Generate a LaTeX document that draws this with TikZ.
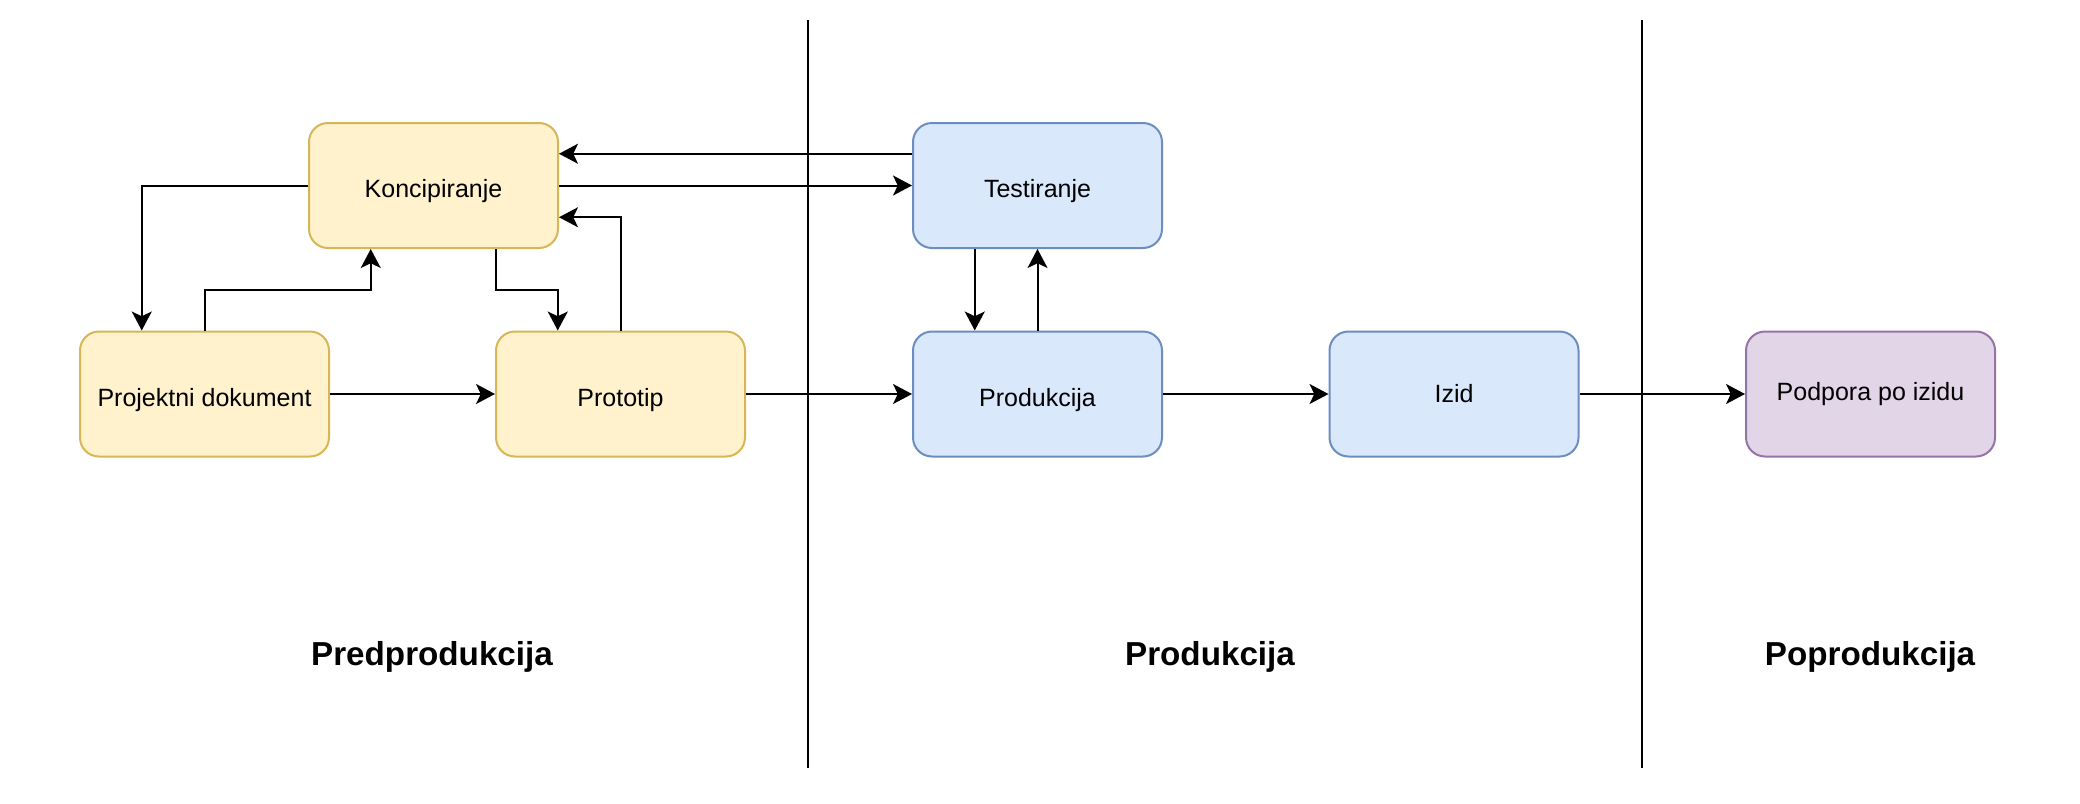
\documentclass[tikz,border=0pt]{standalone}
\usepackage{fontspec}
\setmainfont{Liberation Sans}
\usetikzlibrary{arrows.meta,calc}
\definecolor{yfill}{HTML}{FFF2CC}\definecolor{ydraw}{HTML}{D6B656}
\definecolor{bfill}{HTML}{DAE8FC}\definecolor{bdraw}{HTML}{6C8EBF}
\definecolor{pfill}{HTML}{E1D5E7}\definecolor{pdraw}{HTML}{9673A6}
\tikzset{
  box/.style={rounded corners=9.5pt, line width=1pt, minimum width=124.5pt, minimum height=62.5pt, inner sep=0pt, font=\fontsize{12.5}{15}\selectfont, align=center},
  low/.style={text height=12pt, text depth=0pt},
  ybox/.style={box, fill=yfill, draw=ydraw},
  bbox/.style={box, fill=bfill, draw=bdraw},
  pbox/.style={box, fill=pfill, draw=pdraw},
  arr/.style={line width=1pt, -{Stealth[length=9.5pt, width=10pt, inset=2.4pt]}},
  phase/.style={font=\fontsize{16.6}{20}\selectfont\bfseries},
  divider/.style={line width=1pt}
}
\begin{document}
\begin{tikzpicture}[x=0.5pt, y=-0.5pt]
\useasboundingbox (0,0) rectangle (2080,803);
\fill[white] (0,0) rectangle (2080,803);
\draw[divider] (808,20) -- (808,768);
\draw[divider] (1642,20) -- (1642,768);
\node[ybox, low] (K) at (433.5,185.5) {Koncipiranje};
\node[ybox, low] (PD) at (204.5,394) {Projektni dokument};
\node[ybox, low] (P) at (620.5,394) {Prototip};
\node[bbox, low] (T) at (1037.5,185.5) {Testiranje};
\node[bbox, low] (PR) at (1037.5,394) {Produkcija};
\node[bbox] (I) at (1454,394) {Izid};
\node[pbox] (PO) at (1870.5,394) {Podpora po izidu};
\node[phase] (L1) at (432,657) {Predprodukcija};
\node[phase] (L2) at (1210,657) {Produkcija};
\node[phase] (L3) at (1870,657) {Poprodukcija};
% connectors
\draw[arr] ($(T.north west)!0.25!(T.south west)$) -- ($(K.north east)!0.25!(K.south east)$);
\draw[arr] (K.east) -- (T.west);
\draw[arr] (K.west) -| ($(PD.north west)!0.25!(PD.north east)$);
\draw[arr] (PD.north) |- ($(PD.north)!0.5!(K.south)$) -| ($(K.south west)!0.25!(K.south east)$);
\draw[arr] ($(K.south west)!0.75!(K.south east)$) |- ($(P.north)!0.5!(K.south)$) -| ($(P.north west)!0.25!(P.north east)$);
\draw[arr] (P.north) |- ($(K.north east)!0.75!(K.south east)$);
\draw[arr] (PD.east) -- (P.west);
\draw[arr] (P.east) -- (PR.west);
\draw[arr] ($(T.south west)!0.25!(T.south east)$) -- ($(PR.north west)!0.25!(PR.north east)$);
\draw[arr] (PR.north) -- (T.south);
\draw[arr] (PR.east) -- (I.west);
\draw[arr] (I.east) -- (PO.west);
\end{tikzpicture}
\end{document}
